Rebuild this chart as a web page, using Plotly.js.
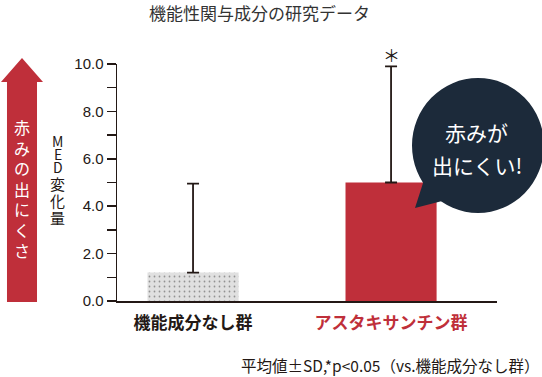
<!DOCTYPE html>
<html>
<head>
<meta charset="utf-8">
<script src="https://cdn.plot.ly/plotly-3.0.1.min.js"></script>
<style>html,body{margin:0;padding:0;background:#fff;}#chart{width:542px;height:377px;}</style>
</head>
<body>
<div id="chart"></div>
<script>
// ---- data ----
const categories = ["機能成分なし群", "アスタキサンチン群"];
const meanValues = [1.2, 5.0];
const sdValues = [3.75, 4.9];
const yTickValues = [0, 2, 4, 6, 8, 10];
const yTickLabels = ["0.0", "2.0", "4.0", "6.0", "8.0", "10.0"];
const chartTitle = "機能性関与成分の研究データ";
const yTitle = "MED変化量";
const arrowLabel = "赤みの出にくさ";
const bubbleLines = ["赤みが", "出にくい!"];
const footnote = "平均値±SD,*p<0.05（vs.機能成分なし群）";
const significance = ["", "＊"];

// ---- layout helpers (pixel -> paper) ----
const W = 542, H = 377;
const M = {l: 117, r: 45, t: 64, b: 76};
const PW = W - M.l - M.r, PH = H - M.t - M.b;
const px = x => (x - M.l) / PW;
const py = y => (H - M.b - y) / PH;
function path(pts) {
  return 'M' + pts.map(p => px(p[0]).toFixed(4) + ',' + py(p[1]).toFixed(4)).join('L') + 'Z';
}

const dark = '#231815';
const red = '#bf2f3a';
const navy = '#1c2a3a';
const font = '"Noto Sans CJK JP", "Liberation Sans", Arial, sans-serif';

const tickText = categories.map((c, i) =>
  i === 1 ? `<b><span style="color:${red}">${c}</span></b>` : `<b>${c}</b>`);

const traces = [{
  type: 'bar',
  x: categories,
  y: meanValues,
  width: 0.46,
  marker: {
    color: ['#e0e0e0', red],
    pattern: {shape: ['.', ''], fillmode: 'overlay', fgcolor: '#d2d2d2', size: 5, solidity: 0.1},
    line: {width: 0}
  },
  error_y: {type: 'data', symmetric: false, array: sdValues, arrayminus: [0, 0],
            color: dark, thickness: 1.8, width: 6},
  hoverinfo: 'none'
}];

const annotations = [
  {xref: 'paper', yref: 'paper', x: px(259), y: py(13), text: chartTitle, showarrow: false,
   font: {family: font, size: 17, color: '#333'}, xanchor: 'center', yanchor: 'middle'},
  {xref: 'paper', yref: 'paper', x: px(476), y: py(132), text: bubbleLines[0], showarrow: false,
   font: {family: font, size: 21, color: '#fff'}, xanchor: 'center', yanchor: 'middle'},
  {xref: 'paper', yref: 'paper', x: px(477), y: py(165), text: bubbleLines[1], showarrow: false,
   font: {family: font, size: 21, color: '#fff'}, xanchor: 'center', yanchor: 'middle'},
  {xref: 'paper', yref: 'paper', x: px(542), y: py(365), text: footnote, showarrow: false,
   font: {family: font, size: 15.5, color: dark}, xanchor: 'right', yanchor: 'middle'}
];
// vertical label inside the arrow
const arrowCenters = [127, 147.5, 168, 188.5, 209, 229.5, 250];
arrowLabel.split('').forEach((ch, i) => annotations.push({
  xref: 'paper', yref: 'paper', x: px(22), y: py(arrowCenters[i]), text: ch, showarrow: false,
  font: {family: font, size: 16, color: '#fff'}, xanchor: 'center', yanchor: 'middle'}));
// vertical y-axis title
const yTitleCenters = [141, 154, 167, 183, 200, 217];
yTitle.split('').forEach((ch, i) => annotations.push({
  xref: 'paper', yref: 'paper', x: px(58), y: py(yTitleCenters[i]), text: ch, showarrow: false,
  font: {family: font, size: i < 3 ? 14 : 15, color: dark}, xanchor: 'center', yanchor: 'middle'}));
categories.forEach((c, i) => {
  if (significance[i]) {
    annotations.push({x: c, y: meanValues[i] + sdValues[i], xref: 'x', yref: 'y', text: significance[i],
      showarrow: false, yshift: 12, font: {family: font, size: 17, color: dark},
      xanchor: 'center', yanchor: 'middle'});
  }
});

const shapes = [
  {type: 'path', xref: 'paper', yref: 'paper', layer: 'above', line: {width: 0}, fillcolor: red,
   path: path([[22, 58], [43, 82], [37, 82], [37, 302], [7, 302], [7, 82], [1, 82]])},
  {type: 'circle', xref: 'paper', yref: 'paper', layer: 'above', line: {width: 0}, fillcolor: navy,
   x0: px(412), x1: px(544), y0: py(213), y1: py(78)},
  {type: 'path', xref: 'paper', yref: 'paper', layer: 'above', line: {width: 0}, fillcolor: navy,
   path: path([[424, 180], [415, 208], [446, 200]])}
];

const layout = {
  width: W, height: H,
  margin: {l: M.l, r: M.r, t: M.t, b: M.b, pad: 0},
  paper_bgcolor: '#fff', plot_bgcolor: '#fff',
  showlegend: false,
  font: {family: font, color: dark},
  xaxis: {
    type: 'category', range: [-0.384, 1.535], tickvals: categories, ticktext: tickText,
    showline: true, linecolor: dark, linewidth: 1.5, ticks: '', showgrid: false, zeroline: false,
    tickfont: {family: font, size: 17, color: dark}, ticklabelstandoff: 6, fixedrange: true
  },
  yaxis: {
    range: [0, 10], tickvals: yTickValues, ticktext: yTickLabels,
    showline: true, linecolor: dark, linewidth: 1.5, ticks: 'outside', ticklen: 9, tickwidth: 1.5, tickcolor: dark,
    minor: {dtick: 1, ticks: 'outside', ticklen: 9, tickwidth: 1.5, tickcolor: dark, showgrid: false},
    showgrid: false, zeroline: false,
    tickfont: {family: '"Liberation Sans", Arial, sans-serif', size: 15, color: dark}, ticklabelstandoff: 0,
    fixedrange: true
  },
  annotations: annotations,
  shapes: shapes
};

Plotly.newPlot('chart', traces, layout, {displayModeBar: false, staticPlot: true});
</script>
</body>
</html>
